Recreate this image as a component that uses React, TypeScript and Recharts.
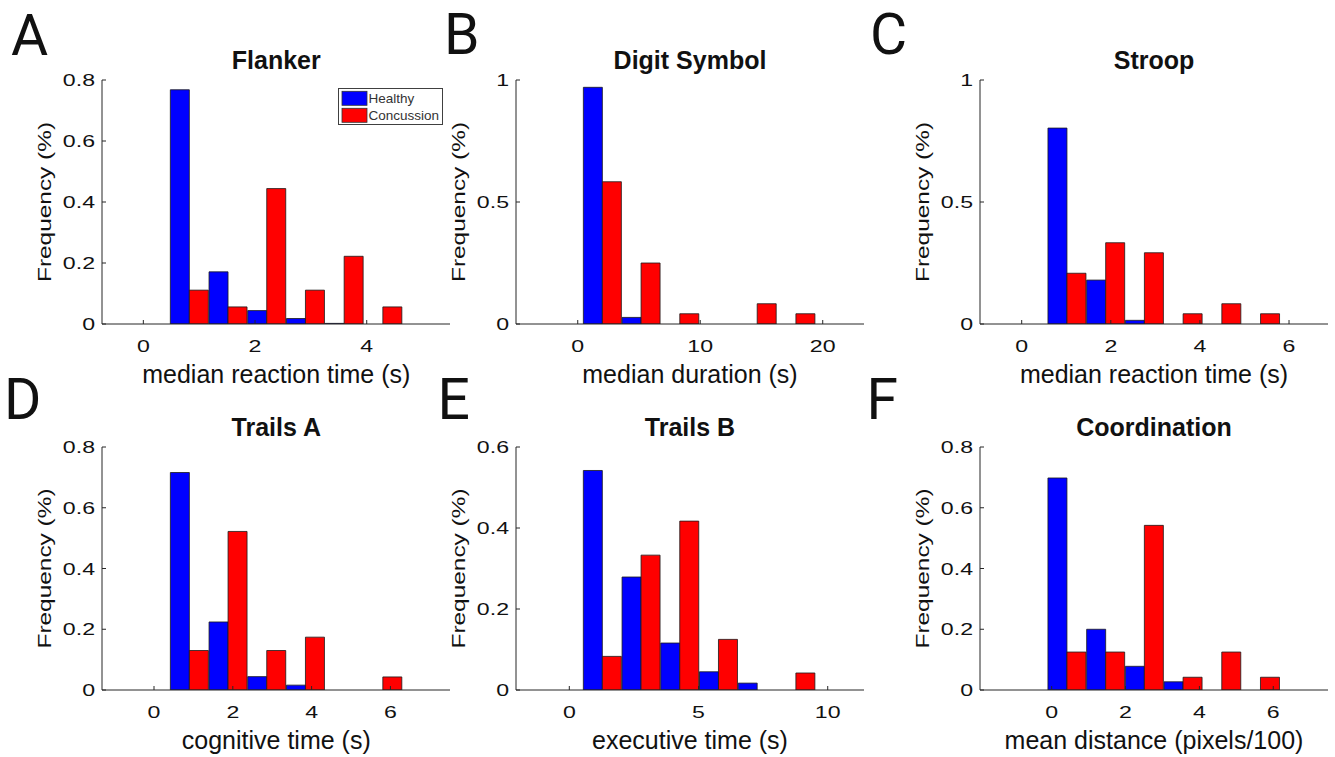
import React from 'react';
import { BarChart, Bar, XAxis, YAxis, Legend } from 'recharts';

// ---------- data ----------
const SERIES_NAMES = ['Healthy', 'Concussion'];
const SERIES_COLORS = ['#0000ff', '#ff0000'];

// A: Flanker
const flankerBins = [0.83, 1.523, 2.216, 2.909, 3.602, 4.295];
const flankerHealthy = [0.768, 0.171, 0.044, 0.018, 0.002, 0];
const flankerConcussion = [0.111, 0.056, 0.444, 0.111, 0.222, 0.056];
const flankerXTicks = [0, 2, 4];
const flankerYTicks = [0, 0.2, 0.4, 0.6, 0.8];

// B: Digit Symbol
const digitBins = [2.04, 5.2, 8.36, 11.52, 14.68, 17.84];
const digitHealthy = [0.97, 0.027, 0, 0, 0, 0];
const digitConcussion = [0.583, 0.25, 0.042, 0, 0.083, 0.042];
const digitXTicks = [0, 10, 20];
const digitYTicks = [0, 0.5, 1];

// C: Stroop
const stroopBins = [1.024, 1.893, 2.762, 3.631, 4.5, 5.369];
const stroopHealthy = [0.803, 0.18, 0.015, 0, 0, 0];
const stroopConcussion = [0.208, 0.333, 0.292, 0.042, 0.083, 0.042];
const stroopXTicks = [0, 2, 4, 6];
const stroopYTicks = [0, 0.5, 1];

// D: Trails A
const trailsABins = [0.906, 1.888, 2.87, 3.852, 4.834, 5.816];
const trailsAHealthy = [0.716, 0.224, 0.044, 0.016, 0, 0];
const trailsAConcussion = [0.13, 0.522, 0.13, 0.174, 0, 0.043];
const trailsAXTicks = [0, 2, 4, 6];
const trailsAYTicks = [0, 0.2, 0.4, 0.6, 0.8];

// E: Trails B
const trailsBBins = [1.292, 2.79, 4.288, 5.786, 7.284, 8.782];
const trailsBHealthy = [0.542, 0.279, 0.116, 0.045, 0.017, 0];
const trailsBConcussion = [0.083, 0.333, 0.417, 0.125, 0, 0.042];
const trailsBXTicks = [0, 5, 10];
const trailsBYTicks = [0, 0.2, 0.4, 0.6];

// F: Coordination
const coordBins = [0.423, 1.471, 2.519, 3.567, 4.615, 5.663];
const coordHealthy = [0.698, 0.2, 0.078, 0.027, 0, 0];
const coordConcussion = [0.125, 0.125, 0.542, 0.042, 0.125, 0.042];
const coordXTicks = [0, 2, 4, 6];
const coordYTicks = [0, 0.2, 0.4, 0.6, 0.8];

// ---------- panel definitions ----------
const PANELS = [
  { id: 'A', title: 'Flanker', xLabel: 'median reaction time (s)', bins: flankerBins, healthy: flankerHealthy, concussion: flankerConcussion, xDomain: [-0.74, 5.491], xTicks: flankerXTicks, yTicks: flankerYTicks, legend: true },
  { id: 'B', title: 'Digit Symbol', xLabel: 'median duration (s)', bins: digitBins, healthy: digitHealthy, concussion: digitConcussion, xDomain: [-5.04, 23.37], xTicks: digitXTicks, yTicks: digitYTicks, legend: false },
  { id: 'C', title: 'Stroop', xLabel: 'median reaction time (s)', bins: stroopBins, healthy: stroopHealthy, concussion: stroopConcussion, xDomain: [-0.936, 6.875], xTicks: stroopXTicks, yTicks: stroopYTicks, legend: false },
  { id: 'D', title: 'Trails A', xLabel: 'cognitive time (s)', bins: trailsABins, healthy: trailsAHealthy, concussion: trailsAConcussion, xDomain: [-1.32, 7.512], xTicks: trailsAXTicks, yTicks: trailsAYTicks, legend: false },
  { id: 'E', title: 'Trails B', xLabel: 'executive time (s)', bins: trailsBBins, healthy: trailsBHealthy, concussion: trailsBConcussion, xDomain: [-2.063, 11.404], xTicks: trailsBXTicks, yTicks: trailsBYTicks, legend: false },
  { id: 'F', title: 'Coordination', xLabel: 'mean distance (pixels/100)', bins: coordBins, healthy: coordHealthy, concussion: coordConcussion, xDomain: [-1.941, 7.482], xTicks: coordXTicks, yTicks: coordYTicks, legend: false },
];

// ---------- layout (pixels) ----------
const PLOT_W = 348;
const Y_AXIS_W = 70;
const MARGIN_TOP = 40;
const MARGIN_RIGHT = 12;
const X_AXIS_H = 50;
const LAYOUT: Record<string, { plotLeft: number; plotTop: number; plotH: number; letterX: number; letterY: number }> = {
  A: { plotLeft: 102.3, plotTop: 80, plotH: 244, letterX: 11, letterY: 54.5 },
  B: { plotLeft: 516, plotTop: 80, plotH: 244, letterX: 444, letterY: 54 },
  C: { plotLeft: 980, plotTop: 80, plotH: 244, letterX: 870, letterY: 54 },
  D: { plotLeft: 102.3, plotTop: 447, plotH: 243, letterX: 4, letterY: 418.5 },
  E: { plotLeft: 516, plotTop: 447, plotH: 243, letterX: 437.5, letterY: 418.5 },
  F: { plotLeft: 980, plotTop: 447, plotH: 243, letterX: 866.5, letterY: 418.5 },
};

const FONT = '"Liberation Sans", Arial, Helvetica, sans-serif';
const LETTER_FONT = 'Roboto, "Liberation Sans", sans-serif';
const TICK_FONT = 17;
const TICK_SCALE = 1.36;
const AXIS_COLOR = '#262626';
const TEXT_COLOR = '#111';

const fmt = (v: number) => String(v);

const XTick = (props: any) => {
  const { x, y, payload } = props;
  return (
    <g transform={`translate(${x},${y})`}>
      <text transform={`translate(0,28) scale(${TICK_SCALE},1)`} textAnchor="middle" fontSize={TICK_FONT} fontFamily={FONT} fill={TEXT_COLOR}>
        {fmt(payload.value)}
      </text>
    </g>
  );
};

const YTick = (props: any) => {
  const { x, y, payload } = props;
  return (
    <g transform={`translate(${x},${y})`}>
      <text transform={`translate(-7,6) scale(${TICK_SCALE},1)`} textAnchor="end" fontSize={TICK_FONT} fontFamily={FONT} fill={TEXT_COLOR}>
        {fmt(payload.value)}
      </text>
    </g>
  );
};

const LegendBox = (props: any) => {
  const payload: any[] = (props && props.payload) || [];
  const entries = SERIES_NAMES.map((name, i) => {
    const found = payload.find((p: any) => p && p.value === name);
    return { value: name, color: (found && found.color) || SERIES_COLORS[i] };
  });
  return (
    <svg width={106} height={38} style={{ display: 'block' }}>
      <rect x={0.5} y={0.5} width={104} height={36} fill="#fff" stroke="#404040" strokeWidth={1} />
      {entries.map((p, i) => (
        <g key={p.value}>
          <rect x={4} y={3.3 + i * 17} width={25} height={14} fill={p.color} stroke="#333" strokeWidth={0.8} />
          <text x={30.5} y={15 + i * 16.8} fontSize={13.5} fontFamily={FONT} fill="#333">{p.value}</text>
        </g>
      ))}
    </svg>
  );
};

const Panel = ({ panel }: { panel: typeof PANELS[number] }) => {
  const lay = LAYOUT[panel.id];
  const data = panel.bins.map((b, i) => ({ bin: b, Healthy: panel.healthy[i], Concussion: panel.concussion[i] }));
  const width = Y_AXIS_W + PLOT_W + MARGIN_RIGHT;
  const height = MARGIN_TOP + lay.plotH + X_AXIS_H;
  const chartLeft = lay.plotLeft - Y_AXIS_W;
  const chartTop = lay.plotTop - MARGIN_TOP;
  const yMax = panel.yTicks[panel.yTicks.length - 1];
  return (
    <div style={{ position: 'absolute', left: chartLeft, top: chartTop, width, height }}>
      <BarChart width={width} height={height} data={data} margin={{ top: MARGIN_TOP, right: MARGIN_RIGHT, bottom: 0, left: 0 }} barGap={0} barCategoryGap={0}>
        <XAxis
          dataKey="bin"
          type="number"
          domain={panel.xDomain}
          allowDataOverflow
          ticks={panel.xTicks}
          interval={0}
          height={X_AXIS_H}
          tickSize={-4}
          tickMargin={4}
          tick={XTick}
          axisLine={{ stroke: AXIS_COLOR, strokeWidth: 1 }}
          tickLine={{ stroke: AXIS_COLOR, strokeWidth: 1 }}
        />
        <YAxis
          type="number"
          domain={[0, yMax]}
          allowDataOverflow
          ticks={panel.yTicks}
          interval={0}
          width={Y_AXIS_W}
          tickSize={-4}
          tickMargin={4}
          tick={YTick}
          axisLine={{ stroke: AXIS_COLOR, strokeWidth: 1 }}
          tickLine={{ stroke: AXIS_COLOR, strokeWidth: 1 }}
        />
        <Bar dataKey="Healthy" name={SERIES_NAMES[0]} fill={SERIES_COLORS[0]} stroke="#1a1a1a" strokeWidth={0.8} isAnimationActive={false} />
        <Bar dataKey="Concussion" name={SERIES_NAMES[1]} fill={SERIES_COLORS[1]} stroke="#1a1a1a" strokeWidth={0.8} isAnimationActive={false} />
        {panel.legend && (
          <Legend
            layout="vertical"
            align="center"
            verticalAlign="middle"
            content={LegendBox}
            wrapperStyle={{ position: 'absolute', left: 337.7 - chartLeft, top: 87.7 - chartTop, width: 106, height: 38, margin: 0, padding: 0 }}
          />
        )}
      </BarChart>
    </div>
  );
};

const Overlay = () => (
  <svg width={1335} height={757} style={{ position: 'absolute', left: 0, top: 0, pointerEvents: 'none' }}>
    {PANELS.map((p) => {
      const lay = LAYOUT[p.id];
      const cx = lay.plotLeft + PLOT_W / 2;
      const bottom = lay.plotTop + lay.plotH;
      return (
        <g key={p.id}>
          <text x={lay.letterX} y={lay.letterY} fontSize={57} fontFamily={LETTER_FONT} fill={TEXT_COLOR}>{p.id}</text>
          <text x={cx} y={lay.plotTop - 11.5} textAnchor="middle" fontSize={25} fontWeight="bold" fontFamily={FONT} fill={TEXT_COLOR}>{p.title}</text>
          <text x={cx} y={bottom + 59} textAnchor="middle" fontSize={25} fontFamily={FONT} fill={TEXT_COLOR}>{p.xLabel}</text>
          <text
            transform={`translate(${lay.plotLeft - 51.5},${lay.plotTop + lay.plotH / 2}) rotate(-90) scale(1.32,1)`}
            textAnchor="middle"
            fontSize={18.5}
            fontFamily={FONT}
            fill={TEXT_COLOR}
          >
            Frequency (%)
          </text>
        </g>
      );
    })}
  </svg>
);

export default function App() {
  return (
    <div style={{ position: 'absolute', left: 0, top: 0, width: 1335, height: 757, background: '#fff', overflow: 'hidden' }}>
      {PANELS.map((p) => (
        <Panel key={p.id} panel={p} />
      ))}
      <Overlay />
    </div>
  );
}
